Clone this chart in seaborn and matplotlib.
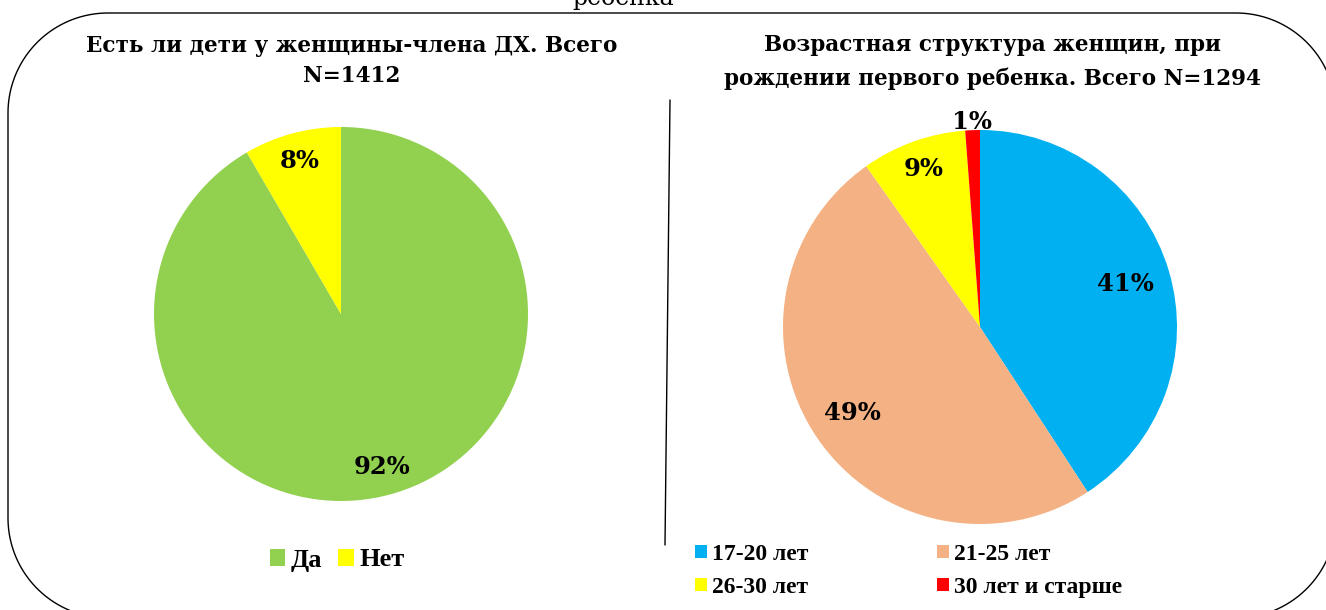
import matplotlib
matplotlib.use("Agg")
import numpy as np
import matplotlib.pyplot as plt
import matplotlib.transforms as mtransforms
import seaborn as sns
from matplotlib.lines import Line2D
from matplotlib.patches import Polygon

# data
kids_labels = ["Да", "Нет"]
kids_share = [91.6, 8.4]
kids_colors = ["#92D050", "#FFFF00"]

age_labels = ["17-20 лет", "21-25 лет", "26-30 лет", "30 лет и старше"]
age_share = [40.8, 49.4, 8.6, 1.2]
age_colors = ["#00B0F0", "#F4B183", "#FFFF00", "#FF0000"]
age_pct_text = ["41%", "49%", "9%", "1%"]

sns.set_theme(style="white")
plt.rcParams["font.family"] = ["DejaVu Serif", "Liberation Serif"]
plt.rcParams["text.color"] = "black"

W, H = 1326, 610
fig = plt.figure(figsize=(W / 100, H / 100), dpi=100)
px = mtransforms.IdentityTransform()  # pixel coords, origin bottom-left

def box(cx, cy, r):
    # pixel center/radius -> figure fraction rect
    return [(cx - r) / W, 1 - (cy + r) / H, 2 * r / W, 2 * r / H]

# rounded frame around the whole slide (pixels from top-left)
x0, x1, y0, y1, rr = 8, 1336, 13, 618, 100
t = np.linspace(0, np.pi / 2, 40)
corners = [
    (x1 - rr, y0 + rr, -np.pi / 2 + t),   # top-right
    (x1 - rr, y1 - rr, t),                # bottom-right
    (x0 + rr, y1 - rr, np.pi / 2 + t),    # bottom-left
    (x0 + rr, y0 + rr, np.pi + t),        # top-left
]
pts = []
for cx, cy, ang in corners:
    pts += list(zip(cx + rr * np.cos(ang), H - (cy + rr * np.sin(ang))))
fig.add_artist(Polygon(pts, closed=True, fill=False, edgecolor="black",
                       linewidth=1.0, transform=px))

# heading of the slide, cut at the top edge
fig.text(623 / W, 1 - 5 / H, "ребенка", ha="center", va="baseline",
         fontsize=17, color="black")

# divider line
fig.add_artist(Line2D([670 / W, 665 / W], [1 - 100 / H, 1 - 545 / H],
                      transform=fig.transFigure, color="black", lw=1.0))

lab_font = dict(fontsize=17.5, fontweight="bold", color="black")

# left pie
ax1 = fig.add_axes(box(341, 314, 187))
w1, t1, a1 = ax1.pie(kids_share, colors=kids_colors, startangle=90,
                     counterclock=False, autopct="%1.0f%%", pctdistance=0.85,
                     textprops=lab_font, wedgeprops=dict(linewidth=0))
ax1.set_xlim(-1, 1)
ax1.set_ylim(-1, 1)
fig.text(352 / W, 1 - 61 / H, "Есть ли дети у женщины-члена ДХ. Всего\nN=1412",
         ha="center", va="center", fontsize=15.5, fontweight="bold",
         linespacing=1.5)
fig.legend(w1, kids_labels, loc="center", bbox_to_anchor=(337 / W, 1 - 560 / H),
           ncol=2, frameon=False, borderpad=0, borderaxespad=0,
           handlelength=0.6, handleheight=0.6, handletextpad=0.2,
           columnspacing=0.6,
           prop=dict(family="Liberation Serif", weight="bold", size=19))

# right pie
ax2 = fig.add_axes(box(980, 327, 197))
w2, t2, a2 = ax2.pie(age_share, colors=age_colors, startangle=90,
                     counterclock=False, autopct="%1.0f%%", pctdistance=0.78,
                     textprops=lab_font, wedgeprops=dict(linewidth=0))
ax2.set_xlim(-1, 1)
ax2.set_ylim(-1, 1)
dist = [0.77, 0.78, 0.85, 1.04]
for txt, d, s in zip(a2, dist, age_pct_text):
    x, y = txt.get_position()
    txt.set_position((x * d / 0.78, y * d / 0.78))
    txt.set_text(s)
fig.text(992 / W, 1 - 62 / H,
         "Возрастная структура женщин, при\nрождении первого ребенка. Всего N=1294",
         ha="center", va="center", fontsize=15.5, fontweight="bold",
         linespacing=1.6)
order = [0, 2, 1, 3]
fig.legend([w2[i] for i in order], [age_labels[i] for i in order],
           loc="upper left", bbox_to_anchor=(695 / W, 1 - 544 / H),
           ncol=2, frameon=False, borderpad=0, borderaxespad=0,
           handlelength=0.5, handleheight=0.5, handletextpad=0.2,
           columnspacing=5.47, labelspacing=0.5,
           prop=dict(family="Liberation Serif", weight="bold", size=17))

fig.savefig("out.png", dpi=100)
